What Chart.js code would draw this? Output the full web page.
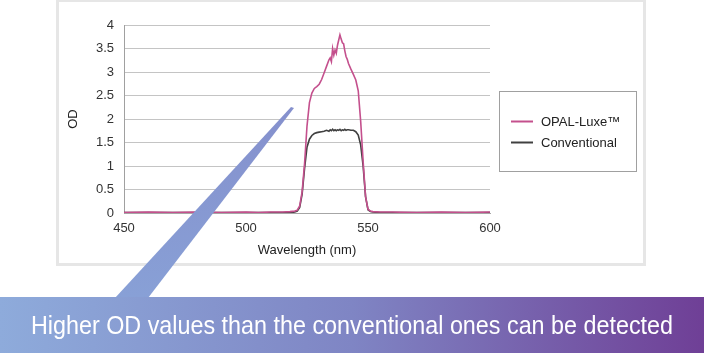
<!DOCTYPE html>
<html lang="en">
<head>
  <meta charset="UTF-8" />
  <title>OD comparison</title>
  <script src="https://cdn.jsdelivr.net/npm/chart.js"></script>
  <style>
    body { margin: 0; background: #fff; }
    #wrap { width: 706px; height: 353px; }
  </style>
</head>
<body>
  <div id="wrap">
    <canvas id="grafico" width="706" height="353"></canvas>
  </div>

  <script>
    // wavelength (nm)
    const wavelengths = [450, 460, 470, 480, 490, 500, 505, 510, 515, 518, 520, 521, 522, 523, 524, 525,
      526, 527, 528, 529, 530, 531, 532, 533, 534, 534.5, 535, 535.5, 536, 536.5, 537, 537.5, 538,
      538.5, 539, 539.5, 540, 540.5, 541, 541.5, 542, 543, 544, 545, 546, 547, 548, 549, 550, 551,
      552, 555, 560, 570, 580, 590, 600];

    const odOpal = [0.01, 0.02, 0.01, 0.02, 0.01, 0.02, 0.01, 0.02, 0.02, 0.03, 0.04, 0.06, 0.15, 0.45, 1.05, 1.85,
      2.35, 2.55, 2.65, 2.69, 2.74, 2.84, 2.98, 3.12, 3.26, 3.3, 3.22, 3.5, 3.36, 3.47, 3.4, 3.57, 3.68,
      3.79, 3.7, 3.62, 3.6, 3.45, 3.33, 3.27, 3.18, 3.06, 2.95, 2.83, 2.6, 1.95, 1.1, 0.35, 0.08, 0.04,
      0.03, 0.02, 0.02, 0.01, 0.02, 0.01, 0.02];

    const odConv = [0.01, 0.01, 0.01, 0.01, 0.01, 0.01, 0.01, 0.01, 0.01, 0.01, 0.02, 0.04, 0.12, 0.4, 0.95, 1.4,
      1.57, 1.65, 1.69, 1.71, 1.72, 1.73, 1.74, 1.76, 1.74, 1.77, 1.75, 1.78, 1.75, 1.77, 1.75, 1.77, 1.76,
      1.78, 1.75, 1.77, 1.76, 1.78, 1.76, 1.77, 1.77, 1.76, 1.76, 1.73, 1.66, 1.45, 1.0, 0.35, 0.07, 0.03,
      0.02, 0.01, 0.01, 0.01, 0.01, 0.01, 0.01];

    const seriesNames = ['OPAL-Luxe™', 'Conventional'];
    const seriesColors = ['#c4508d', '#404040'];
    const bannerText = 'Higher OD values than the conventional ones can be detected';

    const fonte = '"Liberation Sans", Arial, sans-serif';

    // moldura, legenda, seta e faixa
    const decoracao = {
      id: 'decoracao',
      beforeDraw(chart) {
        const c = chart.ctx;
        c.save();
        c.fillStyle = '#fff';
        c.fillRect(0, 0, 706, 353);
        c.strokeStyle = '#e6e6e6';
        c.lineWidth = 3;
        c.strokeRect(57.5, 0.5, 587, 264);
        c.restore();
      },
      afterDraw(chart) {
        const c = chart.ctx;
        c.save();

        // legenda
        c.strokeStyle = '#a0a0a0';
        c.lineWidth = 1;
        c.strokeRect(499.5, 91.5, 137, 80);
        c.font = '13px ' + fonte;
        c.textBaseline = 'middle';
        chart.data.datasets.forEach((ds, i) => {
          const y = 121.5 + i * 21;
          c.strokeStyle = ds.borderColor;
          c.lineWidth = 2;
          c.beginPath();
          c.moveTo(511, y);
          c.lineTo(533, y);
          c.stroke();
          c.fillStyle = '#222';
          c.fillText(ds.label, 541, y + 1);
        });

        // seta
        const gs = c.createLinearGradient(0, 107, 0, 297);
        gs.addColorStop(0, '#8590cd');
        gs.addColorStop(1, '#88a0d6');
        c.fillStyle = gs;
        c.beginPath();
        c.moveTo(291, 107);
        c.lineTo(294, 108);
        c.lineTo(148, 298);
        c.lineTo(115, 298);
        c.closePath();
        c.fill();

        // faixa
        const gb = c.createLinearGradient(0, 0, 704, 0);
        gb.addColorStop(0, '#8eabdb');
        gb.addColorStop(0.5, '#7f85c4');
        gb.addColorStop(1, '#6f3f96');
        c.fillStyle = gb;
        c.fillRect(0, 297, 704, 56);

        c.fillStyle = '#fff';
        c.font = '25px ' + fonte;
        c.textAlign = 'left';
        c.textBaseline = 'middle';
        const w = c.measureText(bannerText).width;
        const alvo = 642;
        c.translate(31, 327);
        c.scale(alvo / w, 1);
        c.fillText(bannerText, 0, 0);
        c.restore();
      }
    };

    const ctx = document.getElementById('grafico').getContext('2d');
    new Chart(ctx, {
      type: 'line',
      data: {
        datasets: [
          {
            label: seriesNames[0],
            data: wavelengths.map((x, i) => ({ x: x, y: odOpal[i] })),
            borderColor: seriesColors[0],
            borderWidth: 1.6,
            pointRadius: 0,
            fill: false
          },
          {
            label: seriesNames[1],
            data: wavelengths.map((x, i) => ({ x: x, y: odConv[i] })),
            borderColor: seriesColors[1],
            borderWidth: 1.6,
            pointRadius: 0,
            fill: false
          }
        ]
      },
      options: {
        responsive: false,
        animation: false,
        layout: { padding: { left: 62, right: 216, top: 25, bottom: 91 } },
        plugins: {
          legend: { display: false },
          tooltip: { enabled: false }
        },
        scales: {
          x: {
            type: 'linear',
            min: 450,
            max: 600,
            ticks: { stepSize: 50, padding: 8, color: '#333', font: { family: fonte, size: 13 } },
            grid: { display: false, drawTicks: false },
            border: { display: true, color: '#a6a6a6' },
            title: {
              display: true, text: 'Wavelength (nm)', color: '#222',
              font: { family: fonte, size: 13 }, padding: { top: 0, bottom: 4 }
            },
            afterFit(scale) { scale.height = 49; }
          },
          y: {
            min: 0,
            max: 4,
            ticks: {
              stepSize: 0.5, padding: 10, color: '#333', font: { family: fonte, size: 13 },
              callback: v => String(v)
            },
            grid: { color: '#c4c4c4', drawTicks: false },
            border: { display: true, color: '#a0a0a0' },
            title: {
              display: true, text: 'OD', color: '#222',
              font: { family: fonte, size: 13 }, padding: { top: 4, bottom: 0 }
            },
            afterFit(scale) { scale.width = 62; }
          }
        }
      },
      plugins: [decoracao]
    });
  </script>
</body>
</html>
